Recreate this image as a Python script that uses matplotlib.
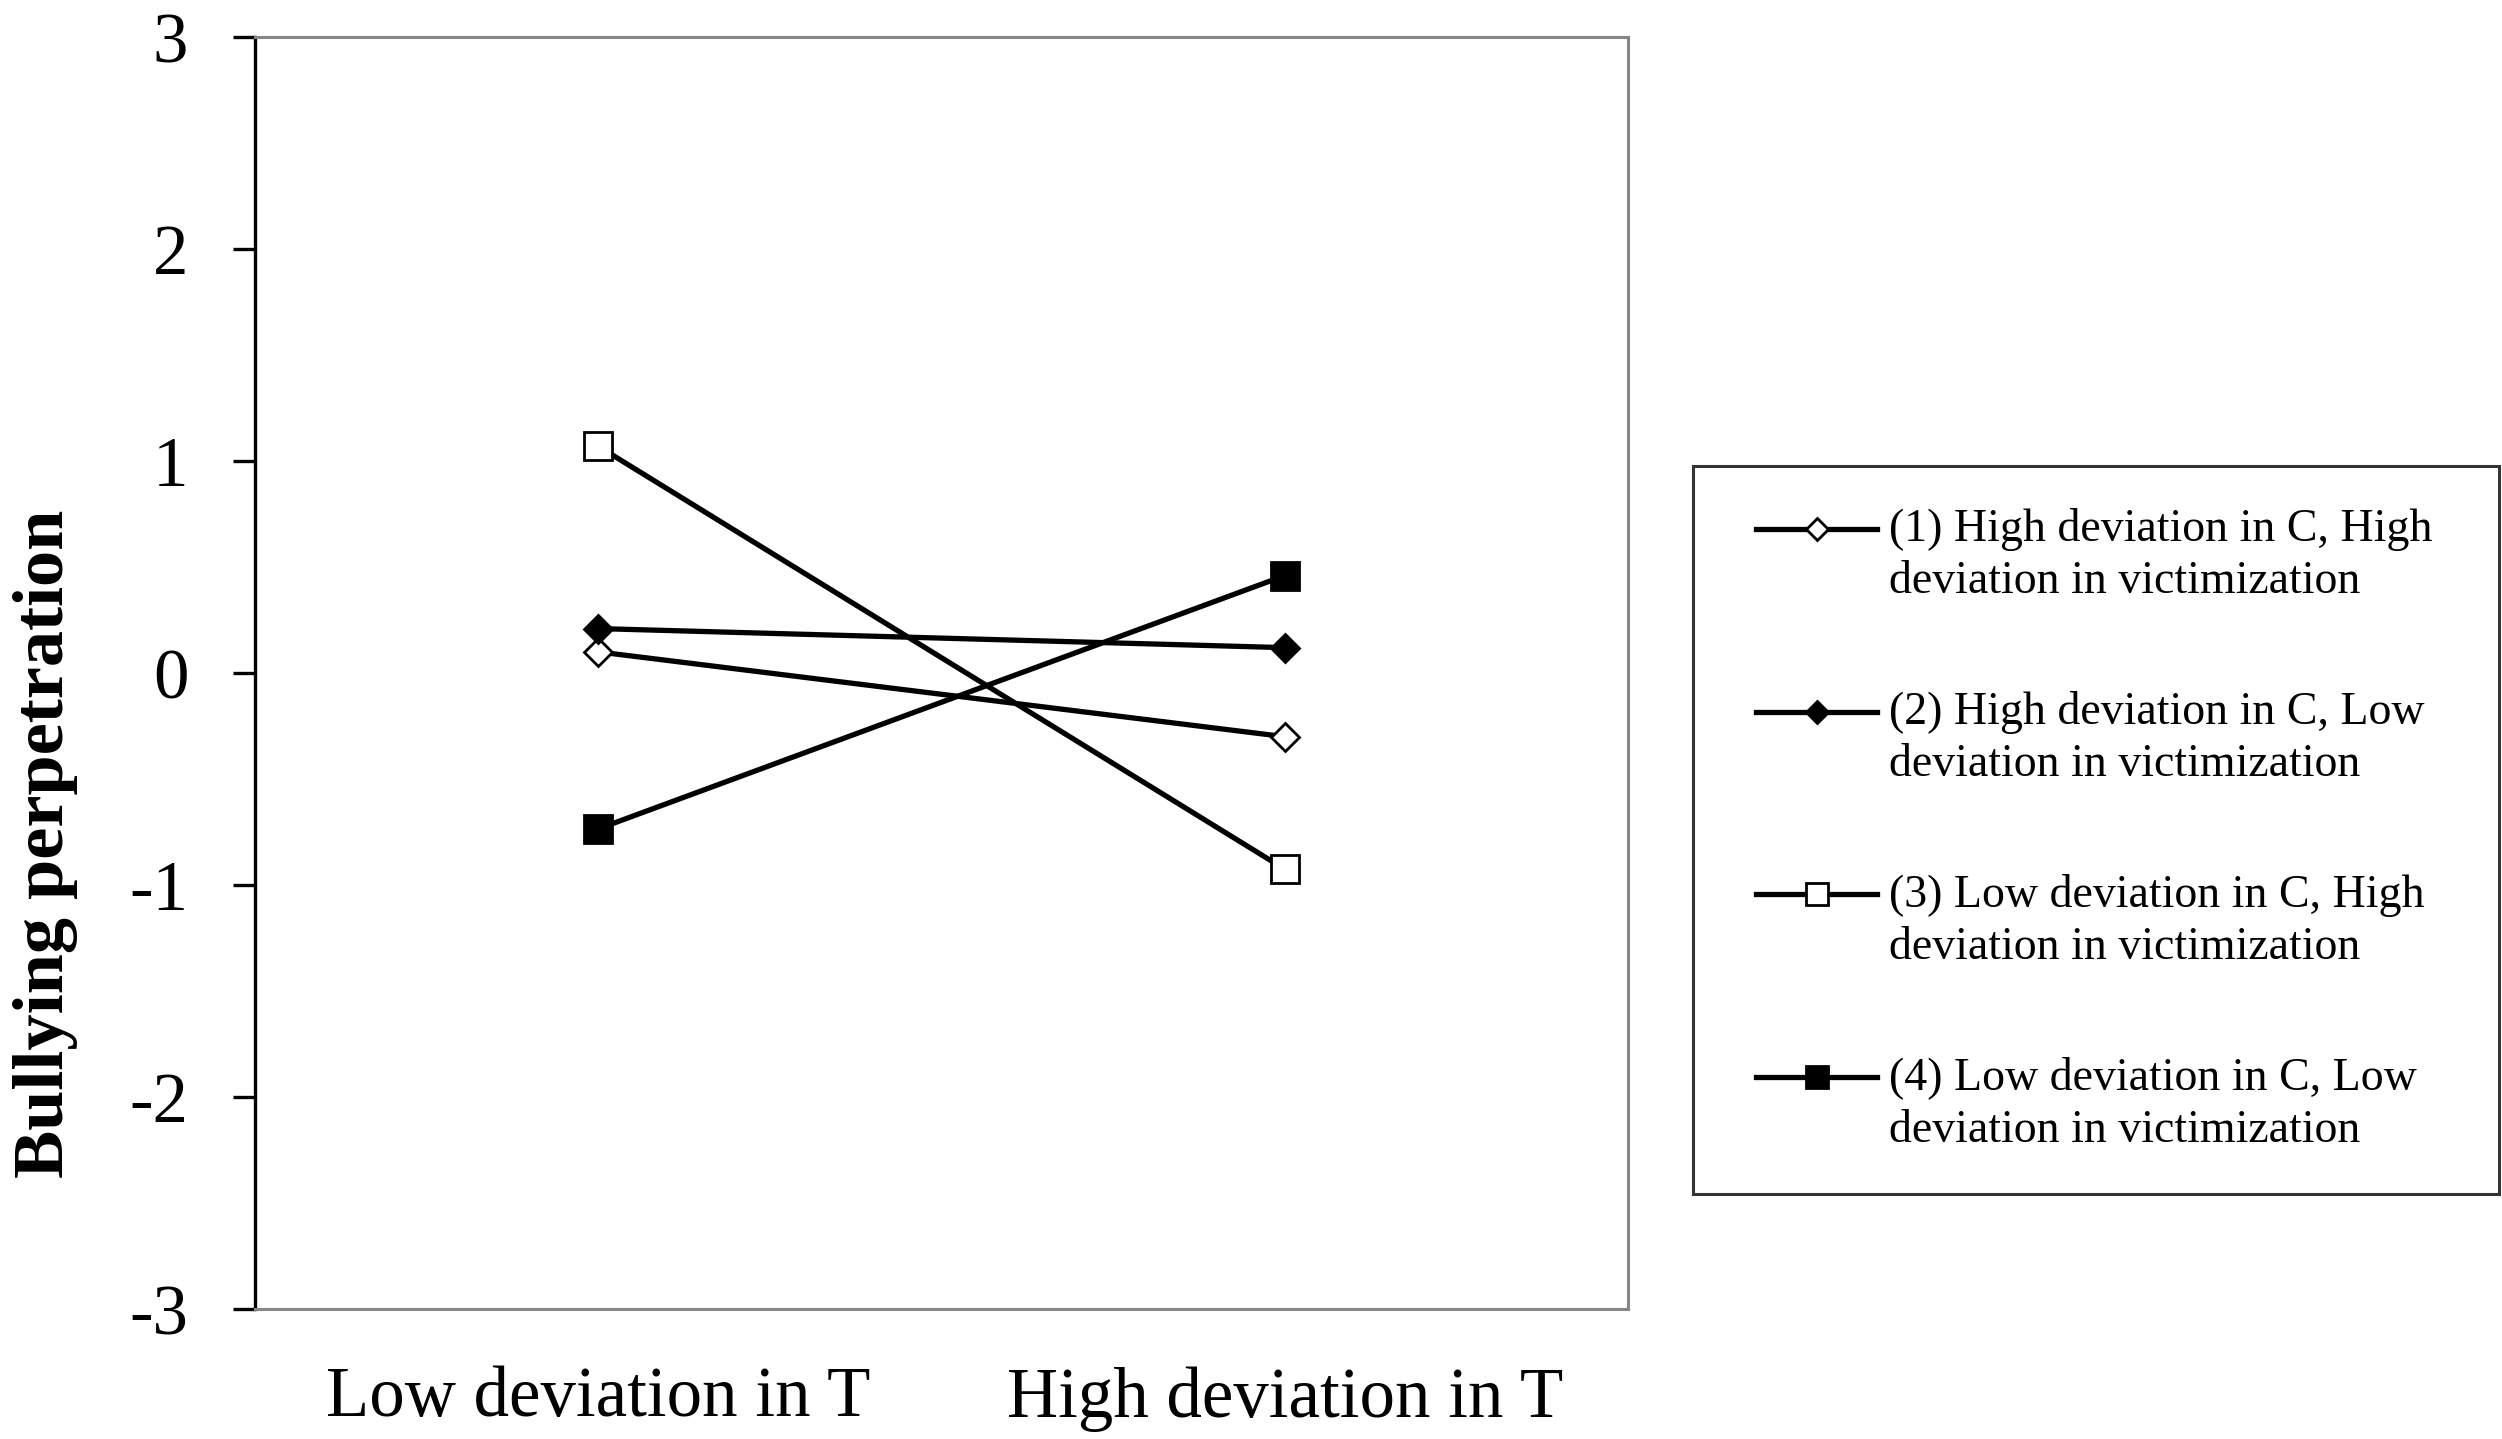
import matplotlib
matplotlib.use("Agg")
import matplotlib.pyplot as plt
from matplotlib.legend_handler import HandlerLine2D

plt.rcParams['font.family'] = ['Liberation Serif', 'DejaVu Serif']

categories = ["Low deviation in T", "High deviation in T"]
labels = [
    "(1) High deviation in C, High\ndeviation in victimization",
    "(2) High deviation in C, Low\ndeviation in victimization",
    "(3) Low deviation in C, High\ndeviation in victimization",
    "(4) Low deviation in C, Low\ndeviation in victimization",
]
series1 = [0.10, -0.30]
series2 = [0.21, 0.12]
series3 = [1.07, -0.925]
series4 = [-0.735, 0.46]
y_ticks = [-3, -2, -1, 0, 1, 2, 3]

markers = ['D', 'D', 's', 's']
faces = ['white', 'black', 'white', 'black']
sizes = [14.5, 14.5, 20.5, 20.5]
leg_sizes = [11.0, 11.0, 16.5, 16.5]


class FirstLineHandler(HandlerLine2D):
    # put the handle on the first text line instead of the last one
    def __init__(self, shift, **kw):
        super().__init__(**kw)
        self.shift = shift

    def create_artists(self, legend, orig_handle, xdescent, ydescent,
                       width, height, fontsize, trans):
        arts = super().create_artists(legend, orig_handle, xdescent, ydescent,
                                      width, height, fontsize, trans)
        for a in arts:
            a.set_ydata([y + self.shift for y in a.get_ydata()])
        return arts


fig = plt.figure(figsize=(25.02, 14.39), dpi=100)
ax = fig.add_axes([0.1019, 0.0903, 0.5488, 0.8839])

x = list(range(len(categories)))
lines = []
for vals, m, fc, ms, lab in zip([series1, series2, series3, series4],
                                markers, faces, sizes, labels):
    ln, = ax.plot(x, vals, color='black', lw=3.8, marker=m, ms=ms,
                  mfc=fc, mec='black', mew=2.0, label=lab, zorder=3)
    lines.append(ln)

ax.set_xlim(-0.5, 1.5)
ax.set_ylim(-3, 3)
ax.set_yticks(y_ticks)
ax.set_yticklabels([str(v) for v in y_ticks])
ax.set_xticks(x)
ax.set_xticklabels(categories)
ax.tick_params(axis='y', labelsize=51, length=16, width=2.4, pad=32,
               direction='out', color='black')
ax.tick_params(axis='x', labelsize=51, length=0, pad=41)

ax.spines['left'].set_color('black')
ax.spines['left'].set_linewidth(2.4)
for s in ['top', 'right', 'bottom']:
    ax.spines[s].set_color('#868686')
    ax.spines[s].set_linewidth(2.2)

ax.set_ylabel("Bullying perpetration", fontsize=52, fontweight='bold')
ax.yaxis.set_label_coords(-0.129, 0.366)

leg = fig.legend(handles=lines, loc='center', mode='expand',
                 bbox_to_anchor=(0.6767, 0.171, 0.3221, 0.5045),
                 borderaxespad=0,
                 fontsize=33, frameon=True, fancybox=False, shadow=False,
                 handlelength=3.09, handletextpad=0.26, labelspacing=1.91,
                 borderpad=0.93,
                 handler_map={l: FirstLineHandler(19.5, xpad=0.44) for l in lines})
leg.get_frame().set_edgecolor('black')
leg.get_frame().set_linewidth(2.2)
for t in leg.get_texts():
    t.set_linespacing(1.30)
for h, ms in zip(leg.legend_handles, leg_sizes):
    h.set_markersize(ms)

fig.savefig("out.png", dpi=100, facecolor='white')
